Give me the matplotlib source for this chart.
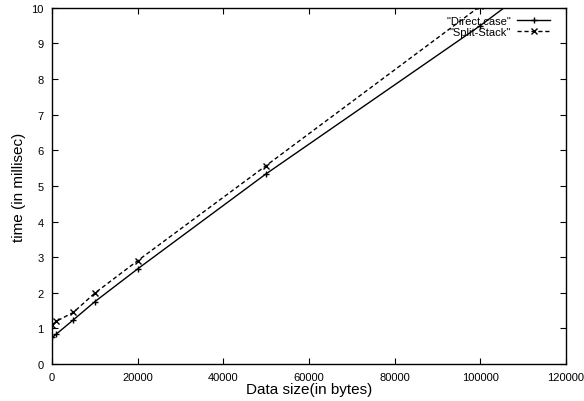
import matplotlib
matplotlib.use("Agg")
import matplotlib.pyplot as plt

plt.rcParams['font.family'] = ['Liberation Sans', 'DejaVu Sans']

# data size in bytes
sizes = [100, 1000, 5000, 10000, 20000, 50000, 100000, 150000]
direct = [0.75, 0.84, 1.24, 1.75, 2.67, 5.34, 9.5, 14.0]
split = [1.10, 1.20, 1.45, 1.99, 2.90, 5.57, 10.05, 14.7]

xticks = [0, 20000, 40000, 60000, 80000, 100000, 120000]
yticks = list(range(0, 11))

fig = plt.figure(figsize=(5.84, 4.02), dpi=100)
ax = fig.add_axes([0.089, 0.092, 0.88, 0.886])

ax.plot(sizes, direct, color='black', lw=1.0, marker='+', ms=5, mew=1.0,
        label='"Direct case"')
ax.plot(sizes, split, color='black', lw=1.0, ls=(0, (3, 2)), marker='x', ms=4.5, mew=1.0,
        label='"Split-Stack"')

ax.set_xlim(0, 120000)
ax.set_ylim(0, 10)
ax.set_xticks(xticks)
ax.set_yticks(yticks)
ax.tick_params(direction='in', length=4, width=0.8, top=True, right=True, labelsize=8)
ax.tick_params(axis='x', pad=6)
ax.tick_params(axis='y', pad=6)
for s in ax.spines.values():
    s.set_linewidth(1.0)

ax.set_xlabel('Data size(in bytes)', fontsize=11, labelpad=0)
ax.set_ylabel('time (in millisec)', fontsize=11, labelpad=4)

ax.legend(loc='upper right', frameon=False, markerfirst=False, fontsize=8,
          handlelength=3.0, numpoints=1, borderaxespad=0.3, labelspacing=0.1,
          handletextpad=0.6, bbox_to_anchor=(0.985, 1.0))

fig.savefig('out.png', dpi=100)
